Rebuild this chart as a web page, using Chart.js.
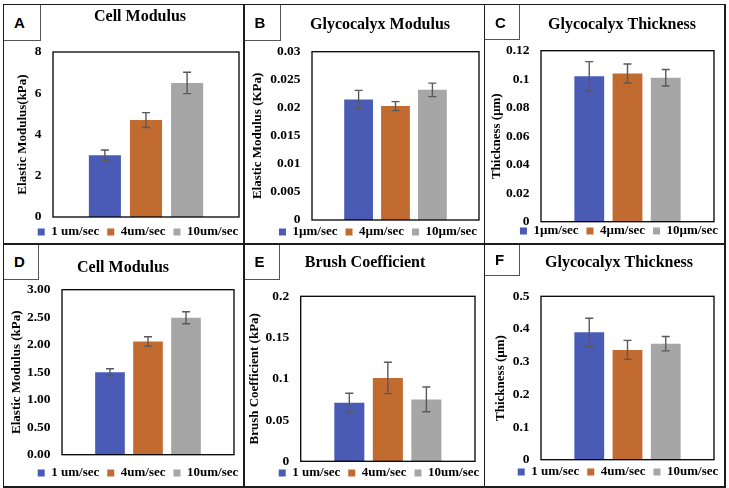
<!DOCTYPE html>
<html>
<head>
<meta charset="utf-8">
<script src="https://cdn.jsdelivr.net/npm/chart.js@4.4.1/dist/chart.umd.min.js"></script>
<style>
  body { margin: 0; background: #fff; }
  #page { position: relative; width: 729px; height: 488px; overflow: hidden; background: #fff; }
  canvas { position: absolute; }
  .line { position: absolute; background: #1c1c1c; z-index: 5; }
  .tag { position: absolute; box-sizing: border-box; border-right: 1px solid #555; border-bottom: 1px solid #555;
         font: bold 15px "Liberation Sans", Arial, sans-serif; color: #000; padding-left: 10px;
         display: flex; align-items: center; z-index: 6; background: #fff; }
</style>
</head>
<body>
<div id="page">
  <canvas id="cA"></canvas>
  <canvas id="cB"></canvas>
  <canvas id="cC"></canvas>
  <canvas id="cD"></canvas>
  <canvas id="cE"></canvas>
  <canvas id="cF"></canvas>

  <div class="line" style="left:2.5px;top:3.5px;width:723px;height:1.5px"></div>
  <div class="line" style="left:2.5px;top:243px;width:723px;height:1.5px"></div>
  <div class="line" style="left:2.5px;top:486px;width:723px;height:1.5px"></div>
  <div class="line" style="left:2.5px;top:3.5px;width:1.5px;height:484px"></div>
  <div class="line" style="left:243px;top:3.5px;width:1.5px;height:484px"></div>
  <div class="line" style="left:483.5px;top:3.5px;width:1.5px;height:484px"></div>
  <div class="line" style="left:724px;top:3.5px;width:1.5px;height:484px"></div>

  <div class="tag" style="left:4px;top:5px;width:37px;height:36px">A</div>
  <div class="tag" style="left:244.5px;top:5px;width:36.5px;height:36px">B</div>
  <div class="tag" style="left:485px;top:5px;width:35px;height:35px">C</div>
  <div class="tag" style="left:4px;top:244.5px;width:35px;height:35.5px">D</div>
  <div class="tag" style="left:244.5px;top:244.5px;width:35.5px;height:35.5px">E</div>
  <div class="tag" style="left:485px;top:244.5px;width:35px;height:31.5px">F</div>
</div>

<script>
// legend names
const speedNames = ['1 um/sec', '4um/sec', '10um/sec'];
const speedNamesMicro = ['1\u00b5m/sec', '4\u00b5m/sec', '10\u00b5m/sec'];

// A - cell modulus
const cellModA = [3.0, 4.7, 6.5];
const cellModAErr = [0.25, 0.36, 0.52];
const ticksA = ['0', '2', '4', '6', '8'];

// B - glycocalyx modulus
const glycoModB = [0.0215, 0.0203, 0.0232];
const glycoModBErr = [0.0016, 0.0008, 0.0012];
const ticksB = ['0', '0.005', '0.01', '0.015', '0.02', '0.025', '0.03'];

// C - glycocalyx thickness
const thickC = [0.102, 0.104, 0.101];
const thickCErr = [0.0103, 0.0067, 0.0058];
const ticksC = ['0', '0.02', '0.04', '0.06', '0.08', '0.1', '0.12'];

// D - cell modulus
const cellModD = [1.50, 2.06, 2.49];
const cellModDErr = [0.064, 0.085, 0.11];
const ticksD = ['0.00', '0.50', '1.00', '1.50', '2.00', '2.50', '3.00'];

// E - brush coefficient
const brushE = [0.071, 0.101, 0.075];
const brushEErr = [0.0115, 0.019, 0.015];
const ticksE = ['0', '0.05', '0.1', '0.15', '0.2'];

// F - glycocalyx thickness
const thickF = [0.390, 0.336, 0.355];
const thickFErr = [0.043, 0.029, 0.022];
const ticksF = ['0', '0.1', '0.2', '0.3', '0.4', '0.5'];

const barColors = ['#4a5bb5', '#c26b30', '#a6a6a6'];

// where things sit on the page (px)
const layouts = {
  A: { cell: [3, 4, 241],   plot: [53, 52, 239, 217],        title: [140, 16.7], legend: [138, 232], yTitleX: 23 },
  B: { cell: [244, 4, 240], plot: [312, 51.7, 479, 220],     title: [380, 25],   legend: [378, 232], yTitleX: 258 },
  C: { cell: [484, 4, 240], plot: [541, 50.7, 714, 221.7],   title: [622, 25],   legend: [619, 231], yTitleX: 497 },
  D: { cell: [3, 244, 241], plot: [62, 289.7, 234, 454.7],   title: [123, 268],  legend: [138, 473], yTitleX: 17 },
  E: { cell: [244, 244, 240], plot: [300.7, 296.3, 475, 461.3], title: [365, 263], legend: [379, 473], yTitleX: 255 },
  F: { cell: [484, 244, 240], plot: [541, 296.3, 714, 459.7], title: [619, 263], legend: [618, 472], yTitleX: 501 }
};

Chart.defaults.font.family = '"Liberation Serif", "Times New Roman", serif';
Chart.defaults.font.weight = 'bold';
Chart.defaults.color = '#000';

// move title / legend to their spots after layout
const place = {
  id: 'place',
  afterLayout(chart, args, opts) {
    const t = chart.titleBlock;
    const tw = t.right - t.left;
    t.left = opts.title[0] - opts.dx - tw / 2;
    t.right = t.left + tw;

    const lg = chart.legend;
    const lw = lg.right - lg.left;
    lg.left = opts.legend[0] - opts.dx - lw / 2;
    lg.right = lg.left + lw;
    const pad = lg.options.labels.padding;
    const h = lg.height;
    lg.top = opts.legend[1] - opts.dy - pad - lg.options.labels.font.size / 2;
    lg.bottom = lg.top + h;
  }
};

// plot box + error bars
const errorBars = {
  id: 'errorBars',
  afterDatasetsDraw(chart) {
    const { ctx, chartArea: a, scales: { y } } = chart;
    ctx.save();
    ctx.strokeStyle = '#000';
    ctx.lineWidth = 1.3;
    ctx.strokeRect(a.left, a.top, a.right - a.left, a.bottom - a.top);

    ctx.strokeStyle = '#595959';
    ctx.lineWidth = 1.4;
    chart.data.datasets.forEach((ds, i) => {
      chart.getDatasetMeta(i).data.forEach((bar, j) => {
        const v = ds.data[j], e = ds.errors[j];
        const top = y.getPixelForValue(v + e);
        const bot = y.getPixelForValue(v - e);
        ctx.beginPath();
        ctx.moveTo(bar.x, top); ctx.lineTo(bar.x, bot);
        ctx.moveTo(bar.x - 4, top); ctx.lineTo(bar.x + 4, top);
        ctx.moveTo(bar.x - 4, bot); ctx.lineTo(bar.x + 4, bot);
        ctx.stroke();
      });
    });
    ctx.restore();
  }
};

function makeChart(key, title, names, values, errors, yTitle, tickLabels, yMax) {
  const L = layouts[key];
  const [cx, cy, cw] = L.cell;
  const left = L.plot[0] - cx, top = L.plot[1] - cy;
  const right = L.plot[2] - cx, bottom = L.plot[3] - cy;
  const legendH = 13 + 8 + 10;
  const ch = Math.ceil(bottom + legendH + 2);
  const titleTop = L.title[1] - cy - 9.6;

  const canvas = document.getElementById('c' + key);
  canvas.width = cw;
  canvas.height = ch;
  canvas.style.left = cx + 'px';
  canvas.style.top = cy + 'px';

  return new Chart(canvas, {
    type: 'bar',
    data: {
      labels: [''],
      datasets: names.map((n, i) => ({
        label: n,
        data: [values[i]],
        errors: [errors[i]],
        backgroundColor: barColors[i],
        borderWidth: 0,
        categoryPercentage: 0.663,
        barPercentage: 0.78
      }))
    },
    options: {
      responsive: false,
      animation: false,
      layout: { padding: { left: 0, top: 0, right: cw - right, bottom: ch - bottom - legendH } },
      scales: {
        x: { display: false },
        y: {
          min: 0,
          max: yMax,
          ticks: {
            stepSize: yMax / (tickLabels.length - 1),
            padding: 11.5,
            font: { size: 13.5 },
            callback: (v, i) => tickLabels[i]
          },
          grid: { display: false, drawTicks: false },
          border: { display: false },
          title: {
            display: true,
            text: yTitle,
            font: { size: 13 },
            padding: { top: L.yTitleX - cx - 7.8, bottom: 0 }
          },
          afterFit: s => { s.width = left; }
        }
      },
      plugins: {
        title: {
          display: true,
          text: title,
          font: { size: 16 },
          padding: { top: titleTop, bottom: top - 19.2 - titleTop }
        },
        legend: {
          position: 'bottom',
          labels: { boxWidth: 7, boxHeight: 7, padding: 8, font: { size: 13 } }
        },
        tooltip: { enabled: false },
        place: { title: L.title, legend: L.legend, dx: cx, dy: cy }
      }
    },
    plugins: [place, errorBars]
  });
}

makeChart('A', 'Cell Modulus', speedNames, cellModA, cellModAErr, 'Elastic Modulus(kPa)', ticksA, 8);
makeChart('B', 'Glycocalyx Modulus', speedNamesMicro, glycoModB, glycoModBErr, 'Elastic Modulus (KPa)', ticksB, 0.03);
makeChart('C', 'Glycocalyx Thickness', speedNamesMicro, thickC, thickCErr, 'Thickness (\u03bcm)', ticksC, 0.12);
makeChart('D', 'Cell Modulus', speedNames, cellModD, cellModDErr, 'Elastic Modulus (kPa)', ticksD, 3);
makeChart('E', 'Brush Coefficient', speedNames, brushE, brushEErr, 'Brush Coefficient (kPa)', ticksE, 0.2);
makeChart('F', 'Glycocalyx Thickness', speedNames, thickF, thickFErr, 'Thickness (\u00b5m)', ticksF, 0.5);
</script>
</body>
</html>
